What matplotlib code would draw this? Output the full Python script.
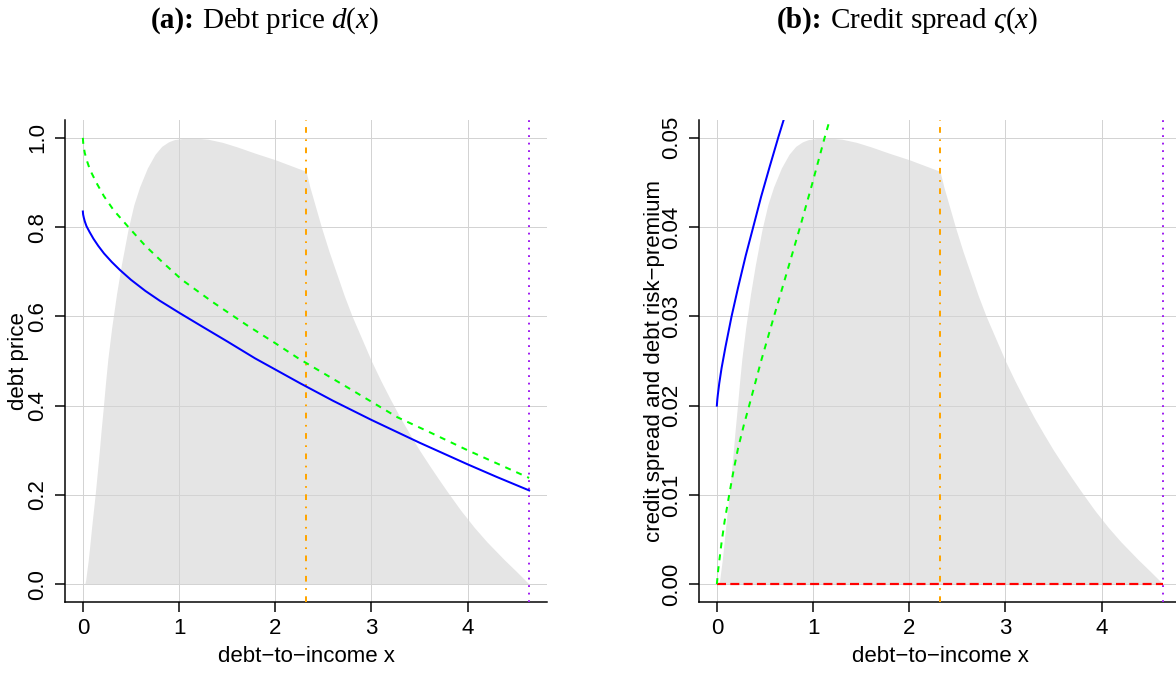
import matplotlib
matplotlib.use("Agg")
import matplotlib.pyplot as plt
import numpy as np

# ---------------- data ----------------
x_ticks = [0, 1, 2, 3, 4]
y_ticks_a = [0.0, 0.2, 0.4, 0.6, 0.8, 1.0]
y_labels_a = ["0.0", "0.2", "0.4", "0.6", "0.8", "1.0"]
y_ticks_b = [0.00, 0.01, 0.02, 0.03, 0.04, 0.05]
y_labels_b = ["0.00", "0.01", "0.02", "0.03", "0.04", "0.05"]

x_max = 4.64          # purple dotted line (upper bound of debt-to-income)
x_mid = 2.32          # orange dot-dashed line

# debt-to-income distribution (normalised to peak 1), shaded in grey
dens_x = [0.02, 0.03, 0.04, 0.055, 0.07, 0.09, 0.11, 0.13, 0.15, 0.17, 0.19,
          0.21, 0.235, 0.26, 0.30, 0.35, 0.40, 0.47, 0.53, 0.59, 0.67, 0.75,
          0.82, 0.89, 0.95, 1.05, 1.15, 1.3, 1.45, 1.6, 1.8, 2.0, 2.32,
          2.36, 2.40, 2.48, 2.56, 2.64, 2.72, 2.80, 2.9, 3.0, 3.1, 3.2, 3.3,
          3.4, 3.5, 3.6, 3.7, 3.79, 3.93, 4.07, 4.2, 4.38, 4.5, 4.64]
dens_y = [0.0, 0.01, 0.027, 0.052, 0.082, 0.125, 0.165, 0.205, 0.25, 0.295, 0.345,
          0.39, 0.45, 0.505, 0.575, 0.65, 0.715, 0.795, 0.85, 0.89, 0.932, 0.963,
          0.981, 0.991, 0.996, 0.999, 1.0, 0.997, 0.99, 0.98, 0.965, 0.951, 0.925,
          0.89, 0.86, 0.80, 0.745, 0.695, 0.645, 0.60, 0.55, 0.50, 0.455, 0.413, 0.373,
          0.336, 0.30, 0.267, 0.235, 0.207, 0.165, 0.127, 0.095, 0.055, 0.03, 0.0]
dens_peak_b = 0.05    # same distribution drawn at peak 0.05 in panel (b)

# panel (a): debt price
price_blue_x = [0.0, 0.003, 0.01, 0.02, 0.038, 0.07, 0.11, 0.16, 0.22, 0.30, 0.385,
                0.5, 0.65, 0.8, 1.01, 1.25, 1.5, 1.79, 2.0, 2.26, 2.6, 3.0, 3.5,
                4.0, 4.3, 4.64]
price_blue_y = [0.835, 0.828, 0.821, 0.813, 0.802, 0.789, 0.774, 0.758, 0.741, 0.722, 0.704,
                0.682, 0.657, 0.635, 0.607, 0.576, 0.544, 0.506, 0.481, 0.450, 0.411, 0.368, 0.317,
                0.2685, 0.2405, 0.210]
price_green_x = [0.0, 0.005, 0.02, 0.045, 0.073, 0.142, 0.22, 0.32, 0.47, 0.65, 0.83,
                 1.03, 1.35, 1.7, 2.0, 2.24, 2.75, 3.27, 3.6, 4.0, 4.3, 4.64]
price_green_y = [1.0, 0.985, 0.966, 0.947, 0.929, 0.899, 0.869, 0.838, 0.801, 0.758, 0.721,
                 0.682, 0.632, 0.581, 0.540, 0.506, 0.441, 0.374, 0.341, 0.300, 0.271, 0.238]

# panel (b): credit spread and risk premium
spread_blue_x = [0.0, 0.005, 0.01, 0.025, 0.049, 0.09, 0.153, 0.22, 0.30, 0.378,
                 0.46, 0.55, 0.64, 0.70]
spread_blue_y = [0.0200, 0.0207, 0.0212, 0.0225, 0.0242, 0.0266, 0.0300, 0.0332, 0.0368, 0.0400,
                 0.0434, 0.0468, 0.0501, 0.0522]
spread_green_x = [0.0, 0.015, 0.03, 0.047, 0.08, 0.128, 0.175, 0.22, 0.28, 0.336,
                  0.46, 0.594, 0.73, 0.865, 0.99, 1.12, 1.20]
spread_green_y = [0.0, 0.0017, 0.0030, 0.0045, 0.0070, 0.0100, 0.0128, 0.0152, 0.0178, 0.0200,
                  0.0250, 0.0300, 0.0350, 0.0400, 0.0448, 0.0500, 0.0530]
spread_red_x = [0.0, 4.64]
spread_red_y = [0.0, 0.0]

# ---------------- styling ----------------
W, H = 1176, 673
PX = 0.72  # points per pixel at dpi 100
plt.rcParams["font.family"] = ["Liberation Sans", "DejaVu Sans"]
plt.rcParams["lines.scale_dashes"] = False
plt.rcParams["lines.solid_joinstyle"] = "round"
plt.rcParams["lines.dash_joinstyle"] = "round"
plt.rcParams["mathtext.fontset"] = "custom"
plt.rcParams["mathtext.rm"] = "Liberation Serif"
plt.rcParams["mathtext.it"] = "Liberation Serif:italic"
plt.rcParams["mathtext.bf"] = "Liberation Serif:bold"

FS = 16
GREY_FILL = "#E5E5E5"
GRID = "#D3D3D3"

fig = plt.figure(figsize=(W / 100, H / 100), dpi=100)

def make_axes(left_px):
    ax = fig.add_axes([left_px / W, 71 / H, 482 / W, 482 / H])
    ax.set_xlim(-0.04 * x_max, x_max * 1.04)
    for s in ("top", "right"):
        ax.spines[s].set_visible(False)
    for s in ("left", "bottom"):
        ax.spines[s].set_linewidth(1.5 * PX)
    ax.tick_params(length=10 * PX, width=1.5 * PX, labelsize=FS, colors="black")
    ax.tick_params(axis="x", pad=4)
    ax.tick_params(axis="y", pad=5)
    ax.set_xticks(x_ticks)
    ax.set_xticklabels([str(t) for t in x_ticks])
    return ax

def grid(ax, yt):
    for t in x_ticks:
        ax.axvline(t, color=GRID, lw=1.0 * PX, zorder=1)
    for t in yt:
        ax.axhline(t, color=GRID, lw=1.0 * PX, zorder=1)

def vlines(ax):
    ax.axvline(x_mid, color="#FFA500", lw=2 * PX, zorder=3,
               dashes=(5.7 * PX, 6.5 * PX, 1.7 * PX, 6.5 * PX))
    ax.axvline(x_max, color="#A020F0", lw=2 * PX, zorder=3,
               dashes=(1.8 * PX, 5.7 * PX))

# ---- panel (a)
axA = make_axes(65)
axA.set_ylim(-0.04, 1.04)
axA.set_yticks(y_ticks_a)
axA.set_yticklabels(y_labels_a, rotation=90, va="center")
axA.fill_between(dens_x, 0, dens_y, color=GREY_FILL, lw=0, zorder=0)
grid(axA, y_ticks_a)
vlines(axA)
axA.plot(price_green_x, price_green_y, color="#00FF00", lw=2 * PX, zorder=4,
         dashes=(6 * PX, 6 * PX))
axA.plot(price_blue_x, price_blue_y, color="#0000FF", lw=2 * PX, zorder=5)

# ---- panel (b)
axB = make_axes(699)
axB.set_ylim(-0.002, 0.052)
axB.set_yticks(y_ticks_b)
axB.set_yticklabels(y_labels_b, rotation=90, va="center")
axB.fill_between(dens_x, 0, np.array(dens_y) * dens_peak_b, color=GREY_FILL, lw=0, zorder=0)
grid(axB, y_ticks_b)
vlines(axB)
axB.plot(spread_red_x, spread_red_y, color="#FF0000", lw=2.2 * PX, zorder=4,
         dashes=(9 * PX, 4.3 * PX))
axB.plot(spread_green_x, spread_green_y, color="#00FF00", lw=2 * PX, zorder=4,
         dashes=(6 * PX, 6 * PX))
axB.plot(spread_blue_x, spread_blue_y, color="#0000FF", lw=2 * PX, zorder=5)

# ---- axis labels
fig.text(306 / W, (H - 661.7) / H, "debt\u2212to\u2212income x", fontsize=FS,
         ha="center", va="baseline")
fig.text(940 / W, (H - 661.7) / H, "debt\u2212to\u2212income x", fontsize=FS,
         ha="center", va="baseline")
fig.text(19 / W, 1 - 361 / H, "debt price", fontsize=FS, rotation=90,
         ha="center", va="center")
fig.text(654.5 / W, 1 - 361 / H, "credit spread and debt risk\u2212premium",
         fontsize=FS, rotation=90, ha="center", va="center")

# ---- panel captions
TFS = 21
renderer = fig.canvas.get_renderer()

def caption(cx_px, bold, rest):
    yb = (H - 28) / H
    t1 = fig.text(0, yb, bold, fontsize=TFS, fontweight="bold",
                  family="Liberation Serif", va="baseline")
    t2 = fig.text(0, yb, rest, fontsize=TFS, family="Liberation Serif",
                  va="baseline")
    w1 = t1.get_window_extent(renderer).width
    w2 = t2.get_window_extent(renderer).width
    gap = 0.25 * TFS / PX
    x0 = cx_px - (w1 + gap + w2) / 2
    t1.set_x(x0 / W)
    t2.set_x((x0 + w1 + gap) / W)

caption(265, "(a):", r"Debt price $d(x)$")
caption(907.5, "(b):", r"Credit spread $\varsigma(x)$")

fig.savefig("out.png", dpi=100)
